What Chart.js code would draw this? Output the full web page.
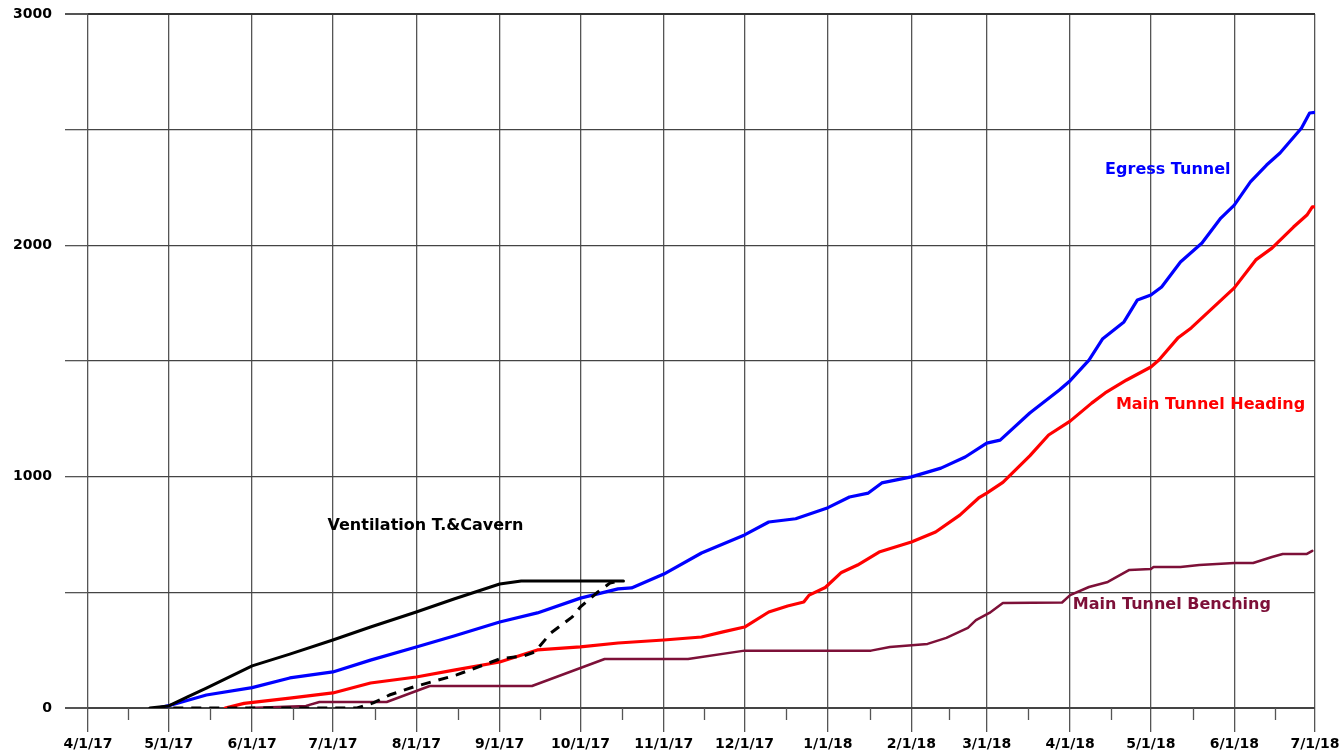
<!DOCTYPE html>
<html>
<head>
<meta charset="utf-8">
<script src="https://cdn.jsdelivr.net/npm/chart.js@4.4.1/dist/chart.umd.min.js"></script>
<style>
  html, body { margin: 0; padding: 0; background: #fff; overflow: hidden; }
  #wrap { width: 1341px; height: 753px; position: relative; }
  canvas { display: block; }
</style>
</head>
<body>
<div id="wrap"><canvas id="c" width="1341" height="753"></canvas></div>
<script>
// ---- data ----
const xTickLabels = ['4/1/17','5/1/17','6/1/17','7/1/17','8/1/17','9/1/17','10/1/17','11/1/17','12/1/17','1/1/18','2/1/18','3/1/18','4/1/18','5/1/18','6/1/18','7/1/18'];
const yTickValues = [0, 500, 1000, 1500, 2000, 2500, 3000];

const egressDates = ['2017-04-27','2017-05-01','2017-05-15','2017-06-01','2017-06-15','2017-07-01','2017-07-15','2017-08-01','2017-08-15','2017-09-01','2017-09-15','2017-10-01','2017-10-15','2017-10-20','2017-11-01','2017-11-15','2017-12-01','2017-12-10','2017-12-20','2018-01-01','2018-01-09','2018-01-16','2018-01-21','2018-02-01','2018-02-12','2018-02-21','2018-03-01','2018-03-06','2018-03-17','2018-03-28','2018-04-01','2018-04-08','2018-04-13','2018-04-21','2018-04-26','2018-05-01','2018-05-05','2018-05-12','2018-05-20','2018-05-27','2018-06-01','2018-06-07','2018-06-13','2018-06-18','2018-06-26','2018-06-29','2018-07-01'];
const egressValues = [0,10,56,88,130,156,207,264,311,372,411,475,515,519,579,670,748,804,818,866,912,929,973,999,1037,1085,1145,1158,1275,1375,1415,1504,1595,1669,1764,1785,1820,1928,2010,2118,2174,2274,2347,2399,2507,2572,2575];

const headingDates = ['2017-05-22','2017-05-29','2017-06-15','2017-07-01','2017-07-15','2017-08-01','2017-08-15','2017-09-01','2017-09-15','2017-10-01','2017-10-15','2017-11-01','2017-11-15','2017-11-23','2017-12-01','2017-12-10','2017-12-17','2017-12-23','2017-12-25','2017-12-31','2018-01-06','2018-01-12','2018-01-20','2018-02-01','2018-02-10','2018-02-19','2018-02-26','2018-03-01','2018-03-07','2018-03-17','2018-03-24','2018-04-01','2018-04-09','2018-04-14','2018-04-22','2018-05-01','2018-05-04','2018-05-11','2018-05-16','2018-05-26','2018-06-01','2018-06-09','2018-06-15','2018-06-23','2018-06-28','2018-06-30','2018-07-01'];
const headingValues = [0,20,43,65,108,134,164,199,251,264,281,294,307,329,350,415,441,458,488,521,586,618,674,718,761,834,908,929,975,1090,1180,1240,1318,1362,1418,1474,1504,1599,1643,1751,1816,1937,1988,2079,2131,2166,2166];

const benchingDates = ['2017-05-31','2017-06-21','2017-06-26','2017-07-21','2017-08-06','2017-09-13','2017-10-10','2017-11-10','2017-12-01','2018-01-17','2018-01-24','2018-02-07','2018-02-14','2018-02-22','2018-02-25','2018-03-02','2018-03-07','2018-03-29','2018-04-01','2018-04-08','2018-04-15','2018-04-23','2018-05-01','2018-05-02','2018-05-12','2018-05-19','2018-06-01','2018-06-08','2018-06-15','2018-06-19','2018-06-28','2018-06-30'];
const benchingValues = [0,9,26,26,95,95,212,212,248,248,264,277,303,346,380,411,454,456,488,523,545,597,601,610,610,618,627,627,653,666,666,679];

const ventDates = ['2017-04-24','2017-05-01','2017-05-08','2017-05-15','2017-06-01','2017-06-15','2017-07-01','2017-07-15','2017-08-01','2017-08-15','2017-09-01','2017-09-09','2017-10-17'];
const ventValues = [0,9,48,86,182,233,294,350,415,471,536,549,549];

const ventPlanDates = ['2017-04-26','2017-07-10','2017-07-16','2017-07-22','2017-07-31','2017-08-16','2017-09-01','2017-09-10','2017-09-14','2017-09-20','2017-09-28','2017-10-01','2017-10-07','2017-10-12','2017-10-14'];
const ventPlanValues = [0,0,22,56,91,143,212,225,242,324,394,437,497,540,545];

const seriesNames = ['Egress Tunnel','Main Tunnel Heading','Main Tunnel Benching','Ventilation T.&Cavern'];
const labelAnchorDates = ['2018-04-14','2018-04-18','2018-04-02','2017-06-29'];
const labelAnchorValues = [2326, 1310, 445, 787];

// ---- helpers ----
const ORIGIN = Date.UTC(2017, 3, 1);
function dayOfIso(s) { const p = s.split('-').map(Number); return (Date.UTC(p[0], p[1]-1, p[2]) - ORIGIN) / 86400000; }
function dayOfLabel(s) { const p = s.split('/').map(Number); return (Date.UTC(2000 + p[2], p[0]-1, p[1]) - ORIGIN) / 86400000; }
function pts(dates, vals) { return dates.map((d, i) => ({ x: dayOfIso(d), y: vals[i] })); }

const xTickValues = xTickLabels.map(dayOfLabel);
const FONT = { family: 'DejaVu Sans', weight: 'bold', size: 14 };
const colors = ['#0000ff', '#ff0000', '#7d1038', '#000000'];

const extras = {
  id: 'extras',
  afterDraw(chart) {
    const ctx = chart.ctx, xs = chart.scales.x, ys = chart.scales.y;
    ctx.save();
    ctx.strokeStyle = '#555';
    ctx.lineWidth = 1.3;
    for (let i = 0; i < xTickValues.length - 1; i++) {
      const px = Math.round(xs.getPixelForValue((xTickValues[i] + xTickValues[i+1]) / 2)) + 0.5;
      ctx.beginPath();
      ctx.moveTo(px, ys.bottom);
      ctx.lineTo(px, ys.bottom + 12);
      ctx.stroke();
    }
    ctx.font = 'bold 16px "DejaVu Sans"';
    ctx.textAlign = 'left';
    ctx.textBaseline = 'middle';
    seriesNames.forEach((n, i) => {
      ctx.fillStyle = colors[i];
      ctx.fillText(n, xs.getPixelForValue(dayOfIso(labelAnchorDates[i])), ys.getPixelForValue(labelAnchorValues[i]));
    });
    ctx.restore();
  }
};

const common = { pointRadius: 0, tension: 0, fill: false, borderJoinStyle: 'round', borderCapStyle: 'round' };

new Chart(document.getElementById('c'), {
  type: 'line',
  data: {
    datasets: [
      Object.assign({ label: seriesNames[3] + ' plan', data: pts(ventPlanDates, ventPlanValues), borderColor: '#000', borderWidth: 3, borderDash: [10, 8] }, common, { borderCapStyle: 'butt' }),
      Object.assign({ label: seriesNames[2], data: pts(benchingDates, benchingValues), borderColor: colors[2], borderWidth: 2.5 }, common),
      Object.assign({ label: seriesNames[3], data: pts(ventDates, ventValues), borderColor: colors[3], borderWidth: 3 }, common),
      Object.assign({ label: seriesNames[1], data: pts(headingDates, headingValues), borderColor: colors[1], borderWidth: 3.2 }, common),
      Object.assign({ label: seriesNames[0], data: pts(egressDates, egressValues), borderColor: colors[0], borderWidth: 3.2 }, common)
    ]
  },
  options: {
    responsive: false,
    maintainAspectRatio: false,
    animation: false,
    devicePixelRatio: 1,
    layout: { padding: { top: 14, right: 26, left: 0, bottom: 0 } },
    plugins: { legend: { display: false }, title: { display: false }, tooltip: { enabled: false } },
    scales: {
      x: {
        type: 'linear',
        min: xTickValues[0],
        max: xTickValues[xTickValues.length - 1],
        afterBuildTicks(s) { s.ticks = xTickValues.map(v => ({ value: v })); },
        afterFit(s) { s.height = 45; s.paddingLeft = 0; s.paddingRight = 0; },
        border: { display: false },
        grid: { color: '#555', lineWidth: 1.3, drawTicks: true, tickLength: 24, tickColor: '#555' },
        ticks: {
          autoSkip: false, maxRotation: 0, minRotation: 0, padding: 4,
          color: '#000', font: FONT,
          callback(v, i) { return xTickLabels[i]; }
        }
      },
      y: {
        type: 'linear',
        min: yTickValues[0],
        max: yTickValues[yTickValues.length - 1],
        afterBuildTicks(s) { s.ticks = yTickValues.map(v => ({ value: v })); },
        afterFit(s) { s.width = 88; s.paddingTop = 0; s.paddingBottom = 0; },
        border: { display: false },
        grid: {
          color: (c) => (c.tick && c.tick.value === 3000) ? '#333' : '#444',
          lineWidth: (c) => (c.tick && (c.tick.value === 3000 || c.tick.value === 0)) ? 2 : 1.3,
          drawTicks: true, tickLength: 23, tickColor: '#555'
        },
        ticks: {
          padding: 13, color: '#000', font: FONT,
          callback(v) { return v % 1000 === 0 ? String(v) : ''; }
        }
      }
    }
  },
  plugins: [extras]
});
</script>
</body>
</html>
